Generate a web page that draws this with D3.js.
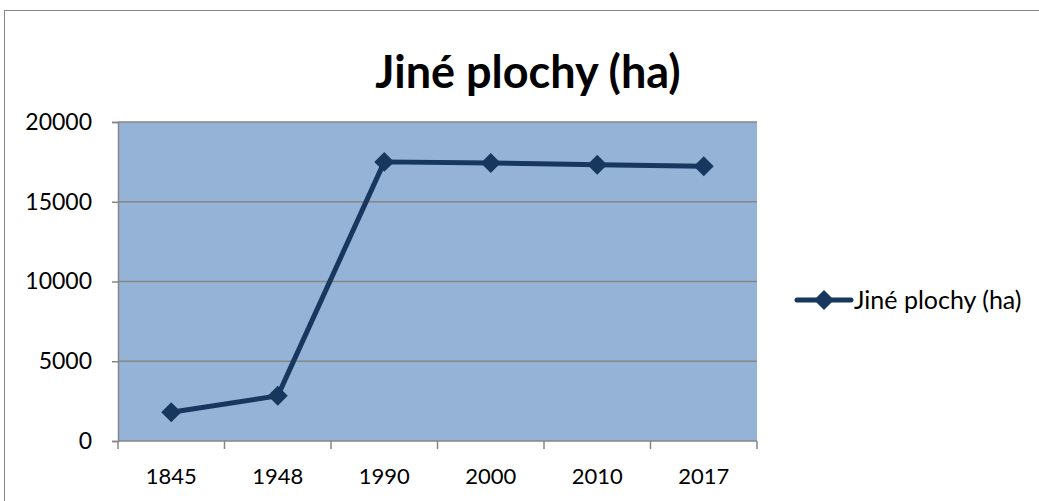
<!DOCTYPE html>
<html>
<head>
<meta charset="utf-8">
<script src="https://cdn.jsdelivr.net/npm/d3@7"></script>
<style>
  body { margin: 0; background: #fff; }
  text { font-family: Lato, "Open Sans", sans-serif; fill: #000; }
</style>
</head>
<body>
<script>
// Chart data
const categories = ['1845', '1948', '1990', '2000', '2010', '2017'];
const values = [1800, 2830, 17500, 17430, 17320, 17220];
const yTicks = [0, 5000, 10000, 15000, 20000];
const seriesName = 'Jiné plochy (ha)';
const chartTitle = 'Jiné plochy (ha)';

const width = 1039, height = 501;
const plot = { left: 118, right: 757, top: 122, bottom: 441 };

const svg = d3.select('body').append('svg')
  .attr('width', width)
  .attr('height', height);

// outer chart border
svg.append('rect')
  .attr('x', 4.5).attr('y', 10.5)
  .attr('width', width + 10).attr('height', height + 10)
  .attr('fill', '#fff')
  .attr('stroke', '#868686').attr('stroke-width', 1);

const x = d3.scaleBand().domain(categories).range([plot.left, plot.right]);
const y = d3.scaleLinear().domain([0, 20000]).range([plot.bottom, plot.top]);

// plot background
svg.append('rect')
  .attr('x', plot.left).attr('y', plot.top)
  .attr('width', plot.right - plot.left).attr('height', plot.bottom - plot.top)
  .attr('fill', '#95b3d7');

// gridlines
svg.append('g').selectAll('line')
  .data(yTicks.filter(d => d > 0))
  .join('line')
  .attr('x1', plot.left).attr('x2', plot.right)
  .attr('y1', d => y(d)).attr('y2', d => y(d))
  .attr('stroke', '#868686').attr('stroke-width', 1.5);

// y axis
const yAxis = svg.append('g')
  .attr('transform', `translate(${plot.left},0)`)
  .call(d3.axisLeft(y).tickValues(yTicks).tickSize(6).tickPadding(20).tickFormat(d3.format('d')));
yAxis.select('.domain').attr('stroke', '#868686').attr('stroke-width', 1.5);
yAxis.selectAll('.tick line').attr('stroke', '#868686').attr('stroke-width', 1.5);
yAxis.selectAll('.tick text').style('font-size', '23px').attr('fill', '#000');

// x axis, ticks on category boundaries
const xAxis = svg.append('g')
  .attr('transform', `translate(0,${plot.bottom})`);
xAxis.append('line')
  .attr('x1', plot.left).attr('x2', plot.right)
  .attr('stroke', '#868686').attr('stroke-width', 1.5);
const bounds = categories.map(c => x(c)).concat([plot.right]);
xAxis.selectAll('line.tk')
  .data(bounds)
  .join('line')
  .attr('class', 'tk')
  .attr('x1', d => d).attr('x2', d => d)
  .attr('y1', 0).attr('y2', 8)
  .attr('stroke', '#868686').attr('stroke-width', 1.5);
xAxis.selectAll('text')
  .data(categories)
  .join('text')
  .attr('x', d => x(d) + x.bandwidth() / 2)
  .attr('y', 43)
  .attr('text-anchor', 'middle')
  .style('font-size', '22px')
  .text(d => d);

// line series
const line = d3.line()
  .x((d, i) => x(categories[i]) + x.bandwidth() / 2)
  .y(d => y(d));
svg.append('path')
  .datum(values)
  .attr('d', line)
  .attr('fill', 'none')
  .attr('stroke', '#17375e')
  .attr('stroke-width', 5)
  .attr('stroke-linejoin', 'round');

const diamond = d3.symbol().type(d3.symbolSquare).size(200);
svg.append('g').selectAll('path')
  .data(values)
  .join('path')
  .attr('d', diamond)
  .attr('transform', (d, i) => `translate(${x(categories[i]) + x.bandwidth() / 2},${y(d)}) rotate(45)`)
  .attr('fill', '#17375e');

// title
svg.append('text')
  .attr('x', 528).attr('y', 88)
  .attr('text-anchor', 'middle')
  .style('font-size', '45px')
  .style('font-weight', 'bold')
  .text(chartTitle);

// legend
const lg = svg.append('g').attr('transform', 'translate(797,300)');
lg.append('line')
  .attr('x1', 0).attr('x2', 54)
  .attr('stroke', '#17375e').attr('stroke-width', 5)
  .attr('stroke-linecap', 'round');
lg.append('path')
  .attr('d', diamond)
  .attr('transform', 'translate(27,0) rotate(45)')
  .attr('fill', '#17375e');
lg.append('text')
  .attr('x', 57).attr('y', 9)
  .style('font-size', '25px')
  .text(seriesName);
</script>
</body>
</html>
